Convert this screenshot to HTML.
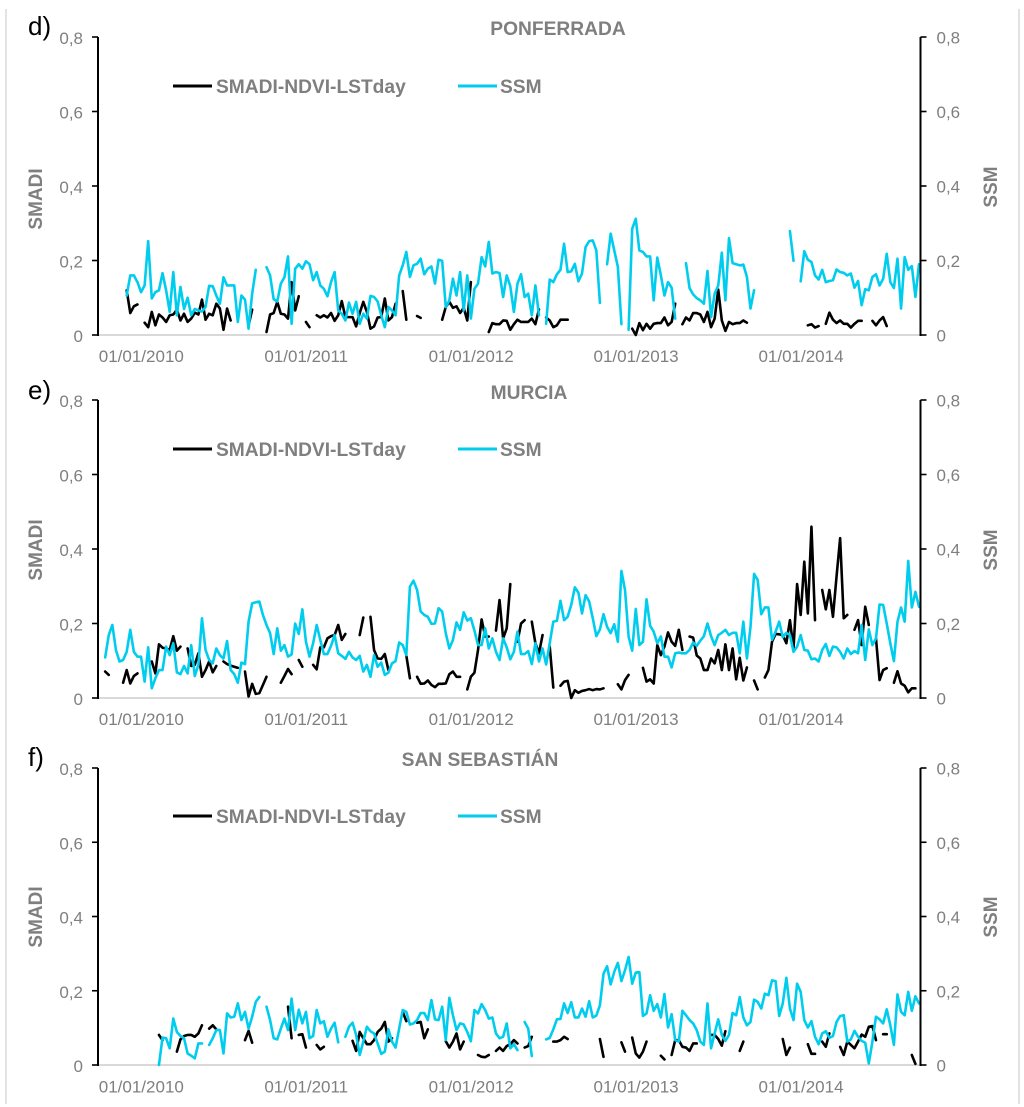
<!DOCTYPE html>
<html lang="en">
<head>
<meta charset="utf-8">
<title>SMADI and SSM time series</title>
<style>
html,body{margin:0;padding:0;background:#fff;}
svg{display:block;font-family:"Liberation Sans",sans-serif;}
.tick{fill:#7f7f7f;font-size:17px;}
.ttl{fill:#7f7f7f;font-size:19.2px;font-weight:bold;text-anchor:middle;}
.leg{fill:#7f7f7f;font-size:19.2px;font-weight:bold;}
.axt{fill:#7f7f7f;font-size:19px;font-weight:bold;text-anchor:middle;}
.pl{fill:#000;font-size:26px;}
</style>
</head>
<body>
<svg id="chart" width="1024" height="1107" viewBox="0 0 1024 1107" xmlns="http://www.w3.org/2000/svg">
  <rect x="0" y="0" width="1024" height="1107" fill="#ffffff"/>
  <line x1="6" y1="9" x2="6" y2="1104" stroke="#e2e2e2" stroke-width="2"/>
  <line x1="1019" y1="9" x2="1019" y2="1104" stroke="#e2e2e2" stroke-width="2"/>

  <g id="panel-d">
    <text class="pl" x="28" y="35">d)</text>
    <text class="ttl" x="558" y="35">PONFERRADA</text>
    <line x1="173" y1="86" x2="212" y2="86" stroke="#000" stroke-width="3"/>
    <text class="leg" x="216" y="93">SMADI-NDVI-LSTday</text>
    <line x1="458" y1="86" x2="497" y2="86" stroke="#00cdee" stroke-width="3"/>
    <text class="leg" x="500" y="93">SSM</text>
    <text class="axt" transform="translate(42,199) rotate(-90)">SMADI</text>
    <text class="axt" transform="translate(997,187) rotate(-90)">SSM</text>
  </g>

  <g id="panel-e">
    <text class="pl" x="28" y="399">e)</text>
    <text class="ttl" x="529" y="399">MURCIA</text>
    <line x1="173" y1="449" x2="212" y2="449" stroke="#000" stroke-width="3"/>
    <text class="leg" x="216" y="456">SMADI-NDVI-LSTday</text>
    <line x1="458" y1="449" x2="497" y2="449" stroke="#00cdee" stroke-width="3"/>
    <text class="leg" x="500" y="456">SSM</text>
    <text class="axt" transform="translate(42,550) rotate(-90)">SMADI</text>
    <text class="axt" transform="translate(997,550) rotate(-90)">SSM</text>
  </g>

  <g id="panel-f">
    <text class="pl" x="28" y="766">f)</text>
    <text class="ttl" x="480" y="766">SAN SEBASTIÁN</text>
    <line x1="173" y1="816" x2="212" y2="816" stroke="#000" stroke-width="3"/>
    <text class="leg" x="216" y="823">SMADI-NDVI-LSTday</text>
    <line x1="458" y1="816" x2="497" y2="816" stroke="#00cdee" stroke-width="3"/>
    <text class="leg" x="500" y="823">SSM</text>
    <text class="axt" transform="translate(42,917) rotate(-90)">SMADI</text>
    <text class="axt" transform="translate(997,917) rotate(-90)">SSM</text>
  </g>
</svg>

<script>
const _ = null;
const yTicks = [0, 0.2, 0.4, 0.6, 0.8];
const yTickLabels = ["0", "0,2", "0,4", "0,6", "0,8"];
const dateLabels = ["01/01/2010", "01/01/2011", "01/01/2012", "01/01/2013", "01/01/2014"];
const dateLabelPeriods = [12, 58, 104, 150, 196];
const periodCount = 230;

const ssmD = [
_,_,_,_,_,_,_,_,.106,.16,
.16,.142,.115,.133,.252,.098,.115,.12,.166,.12,
.062,.169,.053,.129,.07,.1,.053,.07,.066,.063,
.075,.132,.131,.106,.084,.155,.133,.133,.133,.035,
.106,.095,.017,.111,.175,_,_,.182,.16,.096,
.09,.138,.155,.211,.03,.178,.19,.178,.198,.19,
.147,.169,.133,.124,.104,.142,.169,.066,.057,.039,
.087,.057,.089,.03,.057,.044,.105,.102,.09,.053,
.021,.075,.066,.053,.16,.187,.223,.156,.187,.191,
.205,.163,.178,.184,.138,.202,.199,.075,.093,.151,
.106,.169,.066,.16,.044,.124,.138,.209,.184,.25,
.165,.169,.166,.102,.16,.131,.062,.138,.163,.102,
.111,.053,.133,.053,_,.03,.149,.142,.163,.175,
.245,.169,.171,.191,.144,.165,.236,.252,.254,.227,
.086,_,.19,.272,.227,.183,.029,_,.014,.285,
.312,.227,.223,.211,.211,.093,.208,.16,.106,.142,
.127,.044,_,_,.193,.126,.109,.099,.093,.084,
.172,.048,.111,.133,.221,.093,.26,.193,.19,.187,
.189,.156,.071,.12,_,_,_,_,_,_,
_,_,_,.279,.199,_,.144,.225,.202,.196,
.16,.149,.175,.142,.145,.147,.176,.169,.167,.16,
.165,.127,.145,.08,.123,.12,.156,.163,.133,.151,
.218,.142,.126,.205,.071,.209,.175,.185,.102,.19
];
const smadiD = [
_,_,_,_,_,_,_,_,.12,.059,
.077,.082,_,.033,.021,.062,.026,.055,.047,.035,
.053,.055,.068,.039,.057,.035,.044,.06,.055,.095,
.041,.057,.053,.084,.071,.014,.071,.039,_,_,
_,_,.026,.068,_,_,_,.008,.055,.059,
.089,.057,.055,.044,.142,.066,.104,_,.035,.021,
_,.053,.047,.053,.047,.059,.038,.053,.091,.048,
.048,.048,.023,.059,.089,.062,.017,.023,.047,.048,
.098,.039,.048,.084,_,.118,.041,_,_,.051,
.046,_,_,_,_,_,.041,.075,.089,.073,
.077,.059,.073,.039,.142,_,_,_,_,.008,
.032,.029,.029,.039,.038,.014,.029,.041,.035,.035,
.035,.044,.029,.069,_,.047,.039,.021,.026,.041,
.041,.041,_,_,_,_,_,_,_,_,
_,_,_,_,_,_,_,_,_,.017,
0,.032,.013,.03,.017,.03,.032,.032,.047,.026,
.035,.084,_,.029,.047,.039,.059,.059,.055,.035,
.062,.021,.044,.122,.039,.011,.035,.029,.032,.032,
.039,.033,_,_,_,_,_,_,_,_,
_,_,_,_,_,_,_,_,.026,.029,
.02,.024,_,.03,.06,.041,.032,.039,.03,.03,
.02,.03,.038,.038,_,_,.038,.026,.039,.048,
.024,_,_,_,_,_,_,_,_,_
];
const ssmE = [
_,_,.109,.169,.196,.129,.098,.102,.124,.183,
.124,.111,.111,.044,.136,.026,.053,.075,.075,.138,
.115,.147,.069,.064,.086,.066,.142,.059,.089,.214,
.129,.102,.093,.133,.115,.106,.153,.075,.064,.041,
.095,.091,.205,.254,.257,.259,.223,.196,.174,.118,
.187,.127,.142,.111,.117,.2,.172,.238,.151,.111,
.147,.196,.156,.118,.118,.14,.169,.12,.113,.105,
.124,.109,.102,.113,.071,.089,.057,.115,.084,.095,
.062,.068,.093,.099,.149,.142,.115,.299,.315,.29,
.232,.223,.218,.199,.2,.241,.232,.174,.133,.156,
.203,.183,.23,.208,.214,.181,.142,.142,.187,.133,
.16,.124,.102,.16,.136,.104,.124,.178,.118,.118,
.126,.091,.147,.098,.133,.09,.147,.205,.207,.261,
.209,.218,.25,.297,.283,.227,.276,.259,.214,.166,
.184,.225,.191,.174,.198,.151,.341,.29,.165,.127,
.239,.142,.151,.265,.194,.178,.147,.165,.111,.111,
.082,.12,.122,.12,.12,.129,.149,.14,.154,.166,
.2,.166,.142,.169,.175,.183,.169,.175,.175,.12,
.205,.106,.191,.333,.317,.225,.243,.243,.156,.178,
.205,.163,.175,.169,.124,.138,.169,.129,.127,.104,
.106,.098,.129,.145,.113,.138,.136,.124,.106,.133,
.118,.126,.12,.196,.102,.184,.142,.16,.251,.25,
.2,.147,.099,.205,.243,.205,.368,.243,.285,.245
];
const smadiE = [
_,_,.071,.062,_,_,_,.041,.075,.039,
.059,.066,_,_,_,.098,.066,.144,.135,.133,
.129,.166,.127,.138,_,.133,.086,.089,.12,.057,
.075,.098,.069,.086,_,.098,.091,.087,.084,.081,
_,.071,.004,.038,.011,.013,.035,.057,_,_,
_,.041,.059,.078,.064,_,.102,.084,_,_,
.089,.077,.136,.136,.16,.166,.169,.196,.156,.172,
_,_,_,.169,.216,_,.218,.129,.106,.105,
.118,.075,_,_,_,_,.114,.053,_,.057,
.038,.039,.047,.035,.029,.038,.038,.039,.064,.071,
.057,.057,_,.023,.057,.068,.129,.211,.165,.165,
_,.181,.263,.16,.187,.306,_,.151,.2,.209,
_,.205,.147,.12,.169,_,.138,.028,_,.033,
.044,.046,0,.021,.014,.019,.021,.024,.021,.024,
.023,.026,_,_,_,.037,.023,.048,.062,_,
_,_,.081,.044,.05,.039,.142,.115,.138,.176,
.151,.14,.183,.129,_,.165,.162,.114,.106,.075,
.075,.106,.093,.129,.075,.144,.075,.133,.05,.108,
.047,.082,_,.047,.023,_,.055,.075,.151,.172,
.171,.169,.147,.209,.133,.306,.223,.366,.227,.46,
.209,_,.29,.238,.29,.218,.326,.429,.214,.223,
_,.183,.209,.142,.245,.196,_,.16,.048,.075,
.08,_,.041,.072,.039,.033,.015,.026,.026,_
];
const ssmF = [
_,_,_,_,_,_,_,_,_,_,
_,_,_,_,_,_,_,0,.074,.072,
.045,.125,.089,.078,.072,.031,.025,.018,.058,.058,
_,.054,.072,.094,.094,.031,.139,.128,.13,.166,
.121,.143,.098,.13,.17,.183,_,.157,.121,.072,
.069,.098,.125,.094,.179,.094,.149,.112,.143,.072,
.078,.148,.112,.118,.076,.098,.114,.061,_,.076,
.103,.114,.081,.027,.063,.103,.091,.085,.058,.03,
.036,.096,.063,.047,.098,.148,.143,.109,.112,.121,
.14,.14,.121,.175,.123,.121,.157,.067,.181,.134,
.094,.112,.109,.089,.064,.148,.139,.164,.148,.125,
.128,.085,.072,.076,.112,.045,.056,.04,_,.116,
.098,.024,_,_,_,.069,.073,.096,.123,.124,
.166,.14,.169,.128,.128,.152,.13,.172,.128,.133,
.161,.246,.266,.217,.251,.275,.226,.255,.291,.219,
.249,.25,.132,.139,.188,.146,.164,.128,.191,.101,
.137,.067,.063,.146,.134,.121,.112,.094,.063,.054,
.166,.045,.085,.123,.081,.065,.081,.14,.134,.183,
.128,.107,.116,.176,.17,.152,.192,.188,.228,.226,
.132,.166,.235,.152,.121,.219,.197,.121,.101,.118,
.076,.056,.085,.091,.073,.078,.116,.132,.134,.063,
.069,.092,.076,.065,.06,.004,.063,.13,.123,.112,
.15,.107,.054,.19,.143,.134,.197,.146,.185,.166
];
const smadiF = [
_,_,_,_,_,_,_,_,_,_,
_,_,_,_,_,_,_,.081,.067,_,
_,_,.036,.069,.078,.081,.081,.076,.085,.107,
_,.098,.107,.096,_,_,_,_,_,_,
_,.067,.092,.06,_,_,_,_,_,_,
_,_,_,.157,.072,_,.081,.083,.047,_,
_,.054,.042,.049,_,_,_,_,_,_,
_,.065,.038,.089,.072,.056,.056,.067,.089,.098,
.116,.063,.072,_,_,.143,.118,_,_,.114,
.116,.072,.096,_,_,_,_,.064,.047,.063,
.085,.042,.063,_,_,_,.027,.022,.021,.027,
_,.038,.047,.038,.051,.056,.067,.058,_,.047,
.051,.076,_,_,_,_,_,.063,.063,.067,
.076,.07,_,_,_,_,_,_,_,_,
.07,.022,_,_,_,_,.061,.036,_,.074,
.031,.02,.036,.063,_,_,_,.025,.015,_,
.027,.067,.067,.049,.047,.038,.058,.058,_,_,
_,.081,.081,.07,.052,.091,_,_,_,.038,
.063,_,_,_,_,_,_,_,_,_,
_,.07,.027,.047,_,_,_,_,.056,.03,
.03,_,.063,.049,.085,_,_,.049,.027,.063,
.054,.045,.063,.082,.076,.103,.105,.067,_,.083,
.083,_,_,_,_,_,_,.027,.003,_
];

const NS = "http://www.w3.org/2000/svg";
const plotLeft = 98;
const plotRight = 919;
const rightAxisX = 920.5;
function xScale(i) {
  return plotLeft + i * (plotRight - plotLeft) / (periodCount - 1);
}
function makeYScale(top, bottom) {
  return function (v) {
    return bottom - (v / 0.8) * (bottom - top);
  };
}
function svgEl(tag, attrs) {
  const el = document.createElementNS(NS, tag);
  for (const k in attrs) el.setAttribute(k, attrs[k]);
  return el;
}
function segmentsPath(values, yScale) {
  let d = "";
  let pen = false;
  for (let i = 0; i < values.length; i++) {
    const v = values[i];
    if (v === null || v === undefined) { pen = false; continue; }
    d += (pen ? "L" : "M") + xScale(i).toFixed(2) + " " + yScale(v).toFixed(2);
    pen = true;
  }
  return d;
}
function drawPanel(groupId, top, bottom, labelBaseline, smadi, ssm) {
  const g = document.getElementById(groupId);
  const yScale = makeYScale(top, bottom);

  const xAxis = svgEl("line", {x1: plotLeft, y1: bottom, x2: rightAxisX, y2: bottom, stroke: "#d9d9d9", "stroke-width": 2});
  
  
  g.appendChild(xAxis);

  const smadiLine = svgEl("path", {d: segmentsPath(smadi, yScale), fill: "none", stroke: "#000000", "stroke-width": 2.6, "stroke-linejoin": "round", "stroke-linecap": "round"});
  
  
  g.appendChild(smadiLine);

  const ssmLine = svgEl("path", {d: segmentsPath(ssm, yScale), fill: "none", stroke: "#00cdee", "stroke-width": 2.6, "stroke-linejoin": "round", "stroke-linecap": "round"});
  
  
  g.appendChild(ssmLine);

  const leftAxis = svgEl("line", {x1: plotLeft, y1: top, x2: plotLeft, y2: bottom + 1, stroke: "#000", "stroke-width": 2});
  
  
  g.appendChild(leftAxis);

  const rightAxis = svgEl("line", {x1: rightAxisX, y1: top, x2: rightAxisX, y2: bottom + 1, stroke: "#000", "stroke-width": 2});
  
  
  g.appendChild(rightAxis);

  yTicks.forEach(function (t, idx) {
    const y = yScale(t);
    const lt = svgEl("line", {x1: plotLeft - 6, y1: y, x2: plotLeft, y2: y, stroke: "#000", "stroke-width": 1.6});
    
    
    g.appendChild(lt);

    const rt = svgEl("line", {x1: rightAxisX, y1: y, x2: rightAxisX + 6, y2: y, stroke: "#000", "stroke-width": 1.6});
    
    
    g.appendChild(rt);

    const ll = svgEl("text", {x: plotLeft - 15, y: y + 7, "text-anchor": "end", "class": "tick"});
    ll.textContent = yTickLabels[idx];
    
    
    g.appendChild(ll);

    const rl = svgEl("text", {x: rightAxisX + 16, y: y + 6.5, "text-anchor": "start", "class": "tick"});
    rl.textContent = yTickLabels[idx];
    
    
    g.appendChild(rl);
  });

  dateLabels.forEach(function (label, idx) {
    const t = svgEl("text", {x: xScale(dateLabelPeriods[idx]) + 0.3, y: labelBaseline, "text-anchor": "middle", "class": "tick"});
    t.textContent = label;
    
    
    g.appendChild(t);
  });
}

drawPanel("panel-d", 37, 335, 362, smadiD, ssmD);
drawPanel("panel-e", 400, 698, 725, smadiE, ssmE);
drawPanel("panel-f", 768, 1065, 1092.5, smadiF, ssmF);
</script>
</body>
</html>
